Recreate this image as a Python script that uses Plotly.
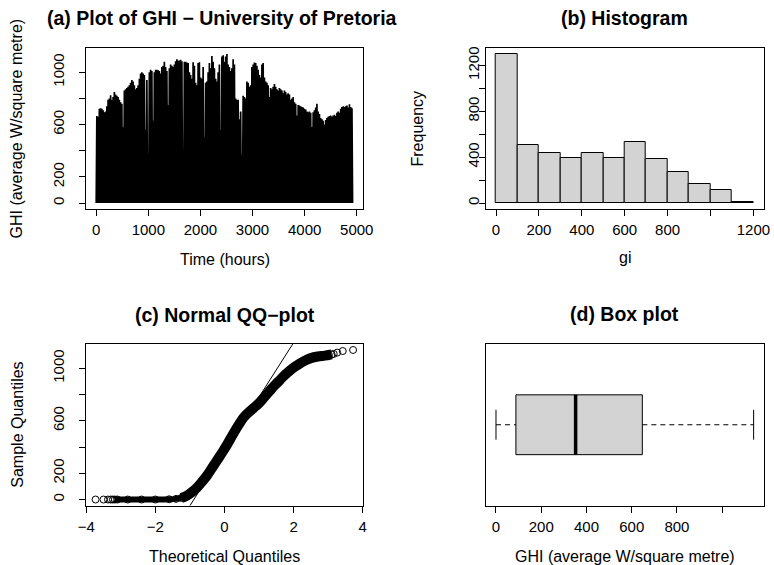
import plotly.graph_objects as go

W, H = 774, 565

# ---------------------------------------------------------------------------
# Data
# ---------------------------------------------------------------------------
# Daily peak GHI (average W/square metre), one value per day of the record
daily_peak = [
    665, 660, 720, 725, 720, 710, 695, 700, 740, 790,
    800, 825, 790, 810, 850, 830, 820, 810, 790, 770,
    760, 580, 860, 870, 880, 890, 900, 920, 940, 930,
    900, 870, 880, 900, 950, 990, 1000, 990, 980, 560,
    940, 355, 1000, 1020, 1010, 630, 1000, 1020, 1020, 1015,
    1010, 990, 1040, 1050, 1080, 1040, 1010, 750, 1030, 1060,
    1050, 1040, 1060, 1085, 1100, 1090,
    1090, 1095, 1085, 370, 1080, 1080, 1075, 1070, 1000, 980,
    950, 1076, 1050, 920, 900, 1070, 1076, 960, 950, 1040,
    505, 920, 930, 1000, 1070, 1030, 1125, 1080, 1030, 950,
    930, 1000, 1060, 556, 1120, 1130, 1080, 1120, 1140, 1060,
    1040, 1010, 1030, 1100, 1060, 800, 790, 790, 640, 700,
    370, 820, 810, 800, 930, 920, 890, 900, 1040, 1060,
    1075, 1070, 1050, 1020, 980, 960,
    1060, 1070, 960, 930, 920, 900, 810, 880, 870, 890,
    910, 890, 870, 860, 880, 870, 860, 840, 860, 850,
    830, 840, 830, 790, 800, 810, 770, 760, 670, 750,
    745, 740, 735, 730, 720, 715, 700, 695, 700, 690,
    582, 695, 710, 730, 760, 700, 680, 650, 640, 630,
    600, 635, 650, 660, 665, 670, 660, 670, 675, 665,
    690, 700, 690, 720, 735, 740, 735, 740, 745, 730,
    755, 735, 725,
]
HOURS_PER_DAY = 24

# Histogram of GHI: bin edges and counts
hist_edges = [0, 100, 200, 300, 400, 500, 600, 700, 800, 900, 1000, 1100, 1200]
hist_counts = [1300, 509, 439, 395, 433, 395, 532, 381, 267, 169, 110, 6]

# Normal QQ-plot: theoretical quantiles and matching sample quantiles
qq_theoretical = [
    -3.73, -3.50, -3.37, -3.29, -3.23, -3.17, -3.10, -2.80, -2.40, -2.00,
    -1.60, -1.40, -1.25, -1.10, -0.95, -0.80, -0.65, -0.50, -0.35, -0.20,
    -0.05, 0.10, 0.25, 0.40, 0.55, 0.70, 0.85, 1.00, 1.15, 1.30,
    1.45, 1.60, 1.75, 1.90, 2.05, 2.20, 2.35, 2.50, 2.70, 2.90,
    3.02, 3.10, 3.16, 3.26, 3.42, 3.72,
]
qq_sample = [
    0, 0, 0, 0, 0, 0, 0, 0, 0, 0,
    2, 5, 12, 28, 55, 90, 135, 185, 245, 305,
    365, 430, 500, 565, 625, 665, 700, 735, 780, 825,
    870, 910, 950, 985, 1015, 1040, 1062, 1078, 1090, 1097,
    1102, 1106, 1110, 1120, 1132, 1140,
]
# ranges of the theoretical axis where the circles merge into a solid band
qq_flat_band = (-3.17, -1.10)
qq_main_band = (-1.25, 3.10)

# Box-plot five-number summary
box_whisker_low = 0
box_q1 = 88
box_median = 352
box_q3 = 647
box_whisker_high = 1139
QQ_QUARTILE_Z = 0.6745  # standard-normal 75th percentile

# Axis ticks
ts_xticks = [0, 1000, 2000, 3000, 4000, 5000]
ghi_yticks = [0, 200, 400, 600, 800, 1000]
ghi_yticklabels = ["0", "200", "", "600", "", "1000"]
hist_xticks = [0, 200, 400, 600, 800, 1000, 1200]
hist_xticklabels = ["0", "200", "400", "600", "800", "", "1200"]
hist_yticks = [0, 200, 400, 600, 800, 1000, 1200]
hist_yticklabels = ["0", "", "400", "", "800", "", "1200"]
qq_xticks = [-4, -2, 0, 2, 4]
qq_xticklabels = ["\u22124", "\u22122", "0", "2", "4"]
box_xticks = [0, 200, 400, 600, 800, 1000]
box_xticklabels = ["0", "200", "400", "600", "800", ""]

# ---------------------------------------------------------------------------
# Figure
# ---------------------------------------------------------------------------
FONT = "Liberation Sans, Arial, Helvetica, sans-serif"
FS_TICK = 15
FS_LABEL = 16
FS_TITLE = 19.5
FILL_GREY = "#D3D3D3"


def fx(px):
    return px / W


def fy(py):
    return 1 - py / H


fig = go.Figure()

# (a) time series: each day rises from zero to its peak and back
ts_hours, ts_ghi = [], []
for d, peak in enumerate(daily_peak):
    ts_hours += [d * HOURS_PER_DAY, d * HOURS_PER_DAY + HOURS_PER_DAY // 2]
    ts_ghi += [0, peak]
ts_hours.append(len(daily_peak) * HOURS_PER_DAY)
ts_ghi.append(0)
fig.add_trace(go.Scatter(x=ts_hours, y=ts_ghi, mode="lines",
                         line=dict(color="black", width=1.7),
                         xaxis="x", yaxis="y", hoverinfo="skip"))

# (b) histogram
centers = [(a + b) / 2 for a, b in zip(hist_edges[:-1], hist_edges[1:])]
widths = [b - a for a, b in zip(hist_edges[:-1], hist_edges[1:])]
fig.add_trace(go.Bar(x=centers, y=hist_counts, width=widths,
                     marker=dict(color=FILL_GREY, line=dict(color="black", width=1)),
                     xaxis="x2", yaxis="y2"))


# (c) normal QQ plot: dense bands of overlapping circles, single circles, qqline
def band(lo, hi):
    pts = [(z, v) for z, v in zip(qq_theoretical, qq_sample) if lo <= z <= hi]
    return [p[0] for p in pts], [p[1] for p in pts]


for (lo, hi), w in [(qq_flat_band, 6), (qq_main_band, 10)]:
    bx, by = band(lo, hi)
    fig.add_trace(go.Scatter(x=bx, y=by, mode="lines",
                             line=dict(color="black", width=w, shape="spline"),
                             xaxis="x3", yaxis="y3"))
fig.add_trace(go.Scatter(x=qq_theoretical, y=qq_sample, mode="markers",
                         marker=dict(symbol="circle-open", size=7, color="black",
                                     line=dict(width=1, color="black")),
                         xaxis="x3", yaxis="y3"))
qq_slope = (box_q3 - box_q1) / (2 * QQ_QUARTILE_Z)
qq_icept = (box_q1 + box_q3) / 2
line_x = [-5, 5]
fig.add_trace(go.Scatter(x=line_x, y=[qq_icept + qq_slope * x for x in line_x],
                         mode="lines", line=dict(color="black", width=1),
                         xaxis="x3", yaxis="y3"))

# (d) horizontal box plot
fig.add_trace(go.Scatter(x=[box_q1, box_q3, box_q3, box_q1, box_q1],
                         y=[0.8, 0.8, 1.2, 1.2, 0.8], mode="lines",
                         fill="toself", fillcolor=FILL_GREY,
                         line=dict(color="black", width=1),
                         xaxis="x4", yaxis="y4"))
fig.add_trace(go.Scatter(x=[box_median, box_median], y=[0.8, 1.2], mode="lines",
                         line=dict(color="black", width=3.5),
                         xaxis="x4", yaxis="y4"))
for a, b in [(box_whisker_low, box_q1), (box_q3, box_whisker_high)]:
    fig.add_trace(go.Scatter(x=[a, b], y=[1, 1], mode="lines",
                             line=dict(color="black", width=1, dash="5px,4px"),
                             xaxis="x4", yaxis="y4"))
for s in [box_whisker_low, box_whisker_high]:
    fig.add_trace(go.Scatter(x=[s, s], y=[0.9, 1.1], mode="lines",
                             line=dict(color="black", width=1),
                             xaxis="x4", yaxis="y4"))

# Panel geometry (pixels)
LEFT_COL = (86, 363)
RIGHT_COL = (485.7, 763.7)
TOP_ROW = (48, 209)
BOT_ROW = (344, 505.5)


def xdom(col):
    return [fx(col[0]), fx(col[1])]


def ydom(row):
    return [fy(row[1]), fy(row[0])]


axis_common = dict(showline=True, mirror=True, linecolor="black", linewidth=1,
                   ticks="outside", ticklen=6, tickwidth=1, tickcolor="black",
                   showgrid=False, zeroline=False, automargin=False,
                   tickfont=dict(family=FONT, size=FS_TICK, color="black"))
xaxis_common = dict(axis_common, ticklabelstandoff=1)
yaxis_left = dict(axis_common, tickangle=-90, ticklabelstandoff=9)
yaxis_right = dict(axis_common, tickangle=-90, ticklabelstandoff=-6)

fig.update_layout(
    width=W, height=H, autosize=False,
    margin=dict(l=0, r=0, t=0, b=0, pad=0),
    paper_bgcolor="white", plot_bgcolor="white",
    showlegend=False,
    font=dict(family=FONT, size=FS_TICK, color="black"),
    xaxis=dict(xaxis_common, domain=xdom(LEFT_COL), range=[-196, 5120],
               tickvals=ts_xticks, anchor="y"),
    yaxis=dict(yaxis_left, domain=ydom(TOP_ROW), range=[-45.6, 1185.6],
               tickvals=ghi_yticks, ticktext=ghi_yticklabels, anchor="x"),
    xaxis2=dict(xaxis_common, domain=xdom(RIGHT_COL), range=[-48, 1248],
                tickvals=hist_xticks, ticktext=hist_xticklabels, anchor="y2"),
    yaxis2=dict(yaxis_right, domain=ydom(TOP_ROW), range=[-52, 1352],
                tickvals=hist_yticks, ticktext=hist_yticklabels, anchor="x2"),
    xaxis3=dict(xaxis_common, domain=xdom(LEFT_COL), range=[-4.007, 4.007],
                tickvals=qq_xticks, ticktext=qq_xticklabels, anchor="y3"),
    yaxis3=dict(yaxis_left, domain=ydom(BOT_ROW), range=[-45.6, 1185.6],
                tickvals=ghi_yticks, ticktext=ghi_yticklabels, anchor="x3"),
    xaxis4=dict(xaxis_common, domain=xdom(RIGHT_COL), range=[-45.5, 1183.5],
                tickvals=box_xticks, ticktext=box_xticklabels, anchor="y4"),
    yaxis4=dict(axis_common, domain=ydom(BOT_ROW), range=[0.46, 1.54],
                ticks="", showticklabels=False, anchor="x4"),
    bargap=0,
)


def label(text, x, y, size=FS_LABEL, bold=False, angle=0):
    fig.add_annotation(text=f"<b>{text}</b>" if bold else text,
                       x=fx(x), y=fy(y), xref="paper", yref="paper",
                       xanchor="center", yanchor="middle", showarrow=False,
                       textangle=angle,
                       font=dict(family=FONT, size=size, color="black"))


# Panel titles
label("(a) Plot of GHI \u2212 University of Pretoria", 222.5, 18, FS_TITLE, True)
label("(b) Histogram", 624.7, 18, FS_TITLE, True)
label("(c) Normal QQ\u2212plot", 224.5, 315, FS_TITLE, True)
label("(d) Box plot", 624.7, 314, FS_TITLE, True)

# Axis titles
label("Time (hours)", 224.5, 259)
label("gi", 624.7, 257)
label("Theoretical Quantiles", 224.5, 556)
label("GHI (average W/square metre)", 624.7, 556)
label("GHI (average W/square metre)", 16, 128.5, angle=-90)
label("Frequency", 417, 128.5, angle=-90)
label("Sample Quantiles", 18, 424.7, angle=-90)

fig.write_html("out.html")
